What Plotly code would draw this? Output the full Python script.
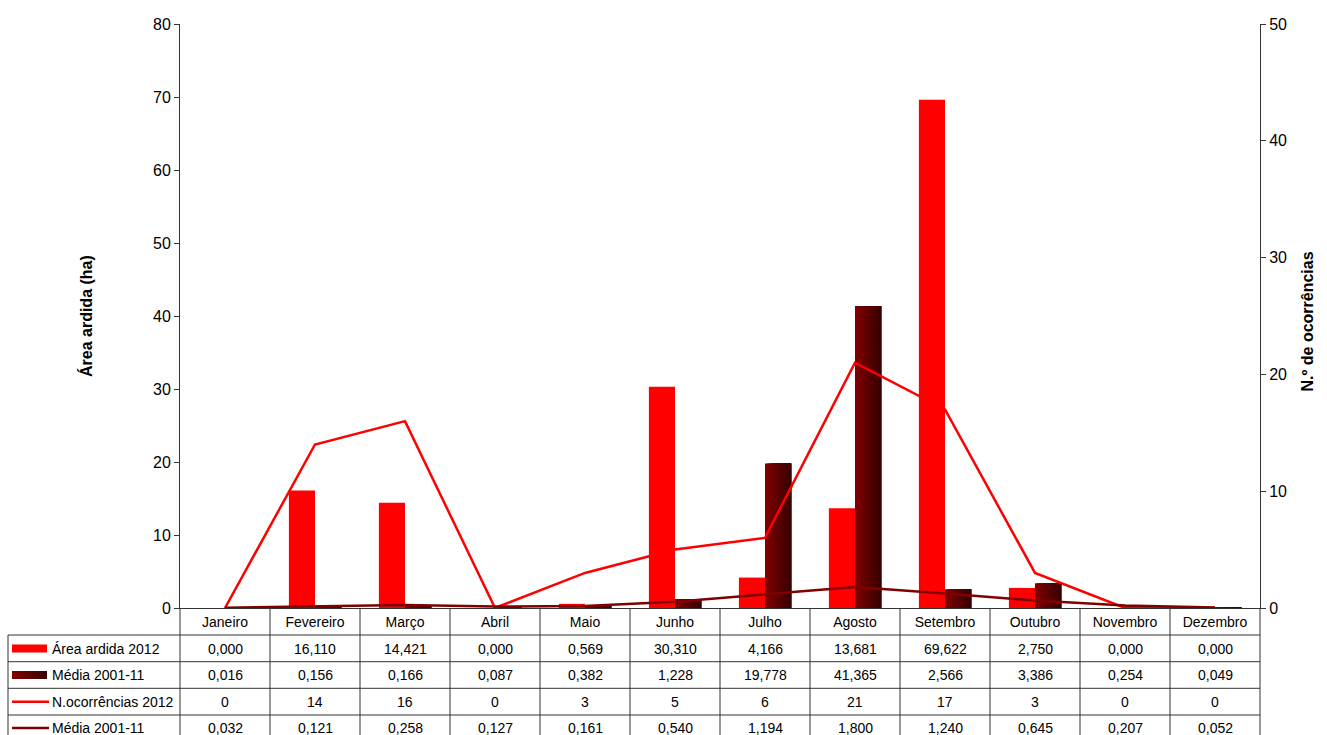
import plotly.graph_objects as go

# Monthly data
meses = ["Janeiro", "Fevereiro", "Março", "Abril", "Maio", "Junho", "Julho",
         "Agosto", "Setembro", "Outubro", "Novembro", "Dezembro"]
area_2012 = [0.000, 16.110, 14.421, 0.000, 0.569, 30.310, 4.166, 13.681, 69.622, 2.750, 0.000, 0.000]
area_media = [0.016, 0.156, 0.166, 0.087, 0.382, 1.228, 19.778, 41.365, 2.566, 3.386, 0.254, 0.049]
ocorr_2012 = [0, 14, 16, 0, 3, 5, 6, 21, 17, 3, 0, 0]
ocorr_media = [0.032, 0.121, 0.258, 0.127, 0.161, 0.540, 1.194, 1.800, 1.240, 0.645, 0.207, 0.052]

serie_nomes = ["Área ardida 2012", "Média 2001-11", "N.ocorrências 2012", "Média 2001-11"]

W, H = 1327, 735
X0, X1 = 180, 1260      # plot area, pixels
Y0, Y1 = 24, 608
FONT = "Liberation Sans, Arial, sans-serif"
RED = "#ff0000"
DARK = "#800000"
GRID = "#333333"


def px(x):
    return (x - X0) / (X1 - X0)


def py(y):
    return (Y1 - y) / (Y1 - Y0)


def grad(t):
    # dark red fading towards near-black
    a = (0x80, 0x00, 0x00)
    b = (0x38, 0x00, 0x00)
    return "rgb(%d,%d,%d)" % tuple(round(a[i] + (b[i] - a[i]) * t) for i in range(3))


fig = go.Figure()

BW = 0.29
fig.add_trace(go.Bar(x=meses, y=area_2012, width=BW, offset=-BW,
                     marker=dict(color=RED, line=dict(width=0)), name=serie_nomes[0]))

# gradient bars: each layer starts a bit further right and runs to the bar's right edge
NS = 14
for i in range(NS):
    fig.add_trace(go.Bar(x=meses, y=area_media, width=BW - i * BW / NS, offset=i * BW / NS,
                         marker=dict(color=grad(i / (NS - 1)), line=dict(width=0)),
                         name=serie_nomes[1], showlegend=False))

fig.add_trace(go.Scatter(x=meses, y=ocorr_2012, yaxis="y2", mode="lines",
                         line=dict(color=RED, width=2.5), name=serie_nomes[2]))
fig.add_trace(go.Scatter(x=meses, y=ocorr_media, yaxis="y2", mode="lines",
                         line=dict(color=DARK, width=2.5), name=serie_nomes[3]))

fig.update_layout(
    width=W, height=H,
    margin=dict(l=X0, r=W - X1, t=Y0, b=H - Y1),
    paper_bgcolor="white", plot_bgcolor="white",
    showlegend=False, barmode="overlay",
    font=dict(family=FONT, color="black"),
    xaxis=dict(type="category", showgrid=False, zeroline=False, showline=True,
               linecolor=GRID, linewidth=1, ticks="", tickfont=dict(size=14),
               ticklabelstandoff=1, range=[-0.5, 11.5]),
    yaxis=dict(range=[0, 80], dtick=10, showgrid=False, zeroline=False, showline=True,
               linecolor=GRID, linewidth=1, ticks="outside", ticklen=5, tickcolor=GRID,
               tickfont=dict(size=16)),
    yaxis2=dict(range=[0, 50], dtick=10, overlaying="y", side="right", showgrid=False,
                zeroline=False, showline=True, linecolor=GRID, linewidth=1,
                ticks="outside", ticklen=5, tickcolor=GRID, tickfont=dict(size=16)),
    yaxis3=dict(range=[0, 50], dtick=10, overlaying="y", side="right", showgrid=False,
                zeroline=False, showline=False, ticks="inside", ticklen=5,
                tickcolor=GRID, showticklabels=False),
)

# axis titles
fig.add_annotation(x=px(75), y=py(316), xref="paper", yref="paper", text="<b>Área ardida (ha)</b>",
                   textangle=-90, showarrow=False, font=dict(size=16))
fig.add_annotation(x=px(1318), y=py(322), xref="paper", yref="paper", text="<b>N.º de ocorrências</b>",
                   textangle=-90, showarrow=False, font=dict(size=16))

# data table under the plot
shapes = []
row_lines = [635, 661.7, 688.3, 715]
for yl in row_lines:
    shapes.append(dict(type="line", xref="paper", yref="paper", x0=px(8), x1=px(X1),
                       y0=py(yl), y1=py(yl), line=dict(color=GRID, width=1)))
shapes.append(dict(type="line", xref="paper", yref="paper", x0=px(8), x1=px(8),
                   y0=py(635), y1=py(740), line=dict(color=GRID, width=1)))
for k in range(len(meses) + 1):
    xl = X0 + k * (X1 - X0) / len(meses)
    shapes.append(dict(type="line", xref="paper", yref="paper", x0=px(xl), x1=px(xl),
                       y0=py(608), y1=py(740), line=dict(color=GRID, width=1)))

row_mid = [648.5, 675, 701.7, 728]

# legend swatches
shapes.append(dict(type="rect", xref="paper", yref="paper", x0=px(12), x1=px(47),
                   y0=py(row_mid[0] - 4), y1=py(row_mid[0] + 4), fillcolor=RED, line=dict(width=0)))
NSW = 12
for i in range(NSW):
    xa = 12 + i * 35 / NSW
    shapes.append(dict(type="rect", xref="paper", yref="paper", x0=px(xa), x1=px(47),
                       y0=py(row_mid[1] - 4), y1=py(row_mid[1] + 4),
                       fillcolor=grad(i / (NSW - 1)), line=dict(width=0)))
shapes.append(dict(type="line", xref="paper", yref="paper", x0=px(12), x1=px(49),
                   y0=py(row_mid[2]), y1=py(row_mid[2]), line=dict(color=RED, width=2.5)))
shapes.append(dict(type="line", xref="paper", yref="paper", x0=px(12), x1=px(49),
                   y0=py(row_mid[3]), y1=py(row_mid[3]), line=dict(color=DARK, width=2.5)))
fig.update_layout(shapes=shapes)

for r, nome in enumerate(serie_nomes):
    fig.add_annotation(x=px(50), y=py(row_mid[r]), xref="paper", yref="paper", text=nome,
                       xanchor="left", yanchor="middle", showarrow=False, font=dict(size=14))


def fmt3(v):
    return f"{v:.3f}".replace(".", ",")


linhas = [[fmt3(v) for v in area_2012],
          [fmt3(v) for v in area_media],
          [str(v) for v in ocorr_2012],
          [fmt3(v) for v in ocorr_media]]
for r, vals in enumerate(linhas):
    for k, t in enumerate(vals):
        xc = X0 + (k + 0.5) * (X1 - X0) / len(meses)
        fig.add_annotation(x=px(xc), y=py(row_mid[r]), xref="paper", yref="paper", text=t,
                           xanchor="center", yanchor="middle", showarrow=False, font=dict(size=14))

fig.write_html("out.html")
